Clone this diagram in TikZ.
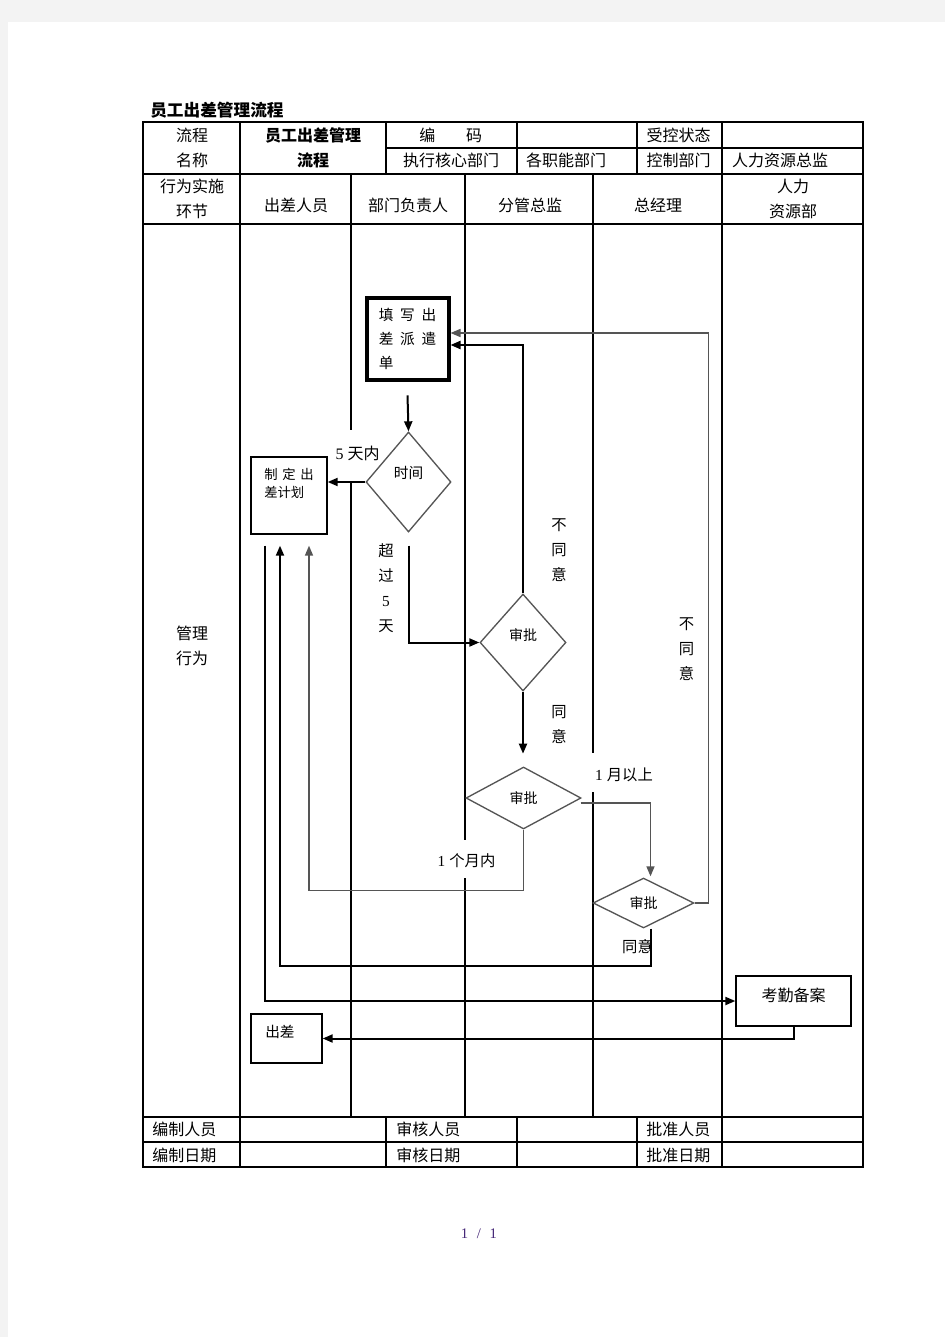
\documentclass[tikz,border=0pt]{standalone}
\usepackage{fontspec}
\setmainfont{Noto Sans CJK SC}
\newfontfamily\digitfont{Liberation Serif}
\definecolor{pagegray}{RGB}{243,243,243}
\definecolor{rulegray}{RGB}{85,85,85}
\definecolor{numink}{RGB}{70,40,120}
\usetikzlibrary{shapes.geometric,arrows.meta,positioning,calc}

\tikzset{
  cell/.style={inner sep=0pt, font=\fontsize{12}{14}\selectfont},
  lane/.style={line width=0.85pt},
  stepbox/.style={draw, line width=1pt, inner sep=0pt},
  choice/.style={draw=rulegray, diamond, line width=1pt, inner sep=0pt,
                 font=\fontsize{10.5}{12}\selectfont},
  boxtext/.style={inner sep=0pt, font=\fontsize{10.5}{12}\selectfont},
  tag/.style={inner sep=0pt, font=\fontsize{11.5}{14}\selectfont},
  vtag/.style={tag, align=center, font=\fontsize{11.5}{18.75}\selectfont},
  link/.style={line width=1.5pt},
  flow/.style={link, -{Triangle[length=7.5pt,width=6pt]}},
  softflow/.style={flow, line width=1.1pt, draw=rulegray},
}

\begin{document}
\begin{tikzpicture}[x=0.75pt,y=-0.75pt]
  \useasboundingbox (0,0) rectangle (945,1337);
  \fill[pagegray] (0,0) rectangle (945,1337);
  \fill[white] (8,22) rectangle (945,1337);

  % table frame
  \node[cell, font=\fontsize{12.5}{14}\selectfont\bfseries, anchor=west] (title)
    at (150,110) {员工出差管理流程};
  \draw[lane] (143,122) rectangle (863,1167);
  \draw[lane] (386,148) -- (863,148);
  \draw[lane] (143,174) -- (863,174);
  \draw[lane] (143,224) -- (863,224);
  \draw[lane] (143,1117) -- (863,1117);
  \draw[lane] (143,1142) -- (863,1142);
  \draw[lane] (240,122) -- (240,1167);
  \draw[lane] (722,122) -- (722,1167);
  \draw[lane] (386,122) -- (386,174) (517,122) -- (517,174) (637,122) -- (637,174);
  \draw[lane] (386,1117) -- (386,1167) (517,1117) -- (517,1167) (637,1117) -- (637,1167);
  \draw[lane] (351,174) -- (351,430) (351,482) -- (351,1117);
  \draw[lane] (465,174) -- (465,840) (465,878) -- (465,1117);
  \draw[lane] (593,174) -- (593,753) (593,792) -- (593,1117);

  % header
  \node[cell] (namea) at (192,135.5) {流程};
  \node[cell] (nameb) at (192,160.5) {名称};
  \node[cell, font=\fontsize{12}{14}\selectfont\bfseries] (flowa) at (313,135.5) {员工出差管理};
  \node[cell, font=\fontsize{12}{14}\selectfont\bfseries] (flowb) at (313,160.5) {流程};
  \node[cell] (code) at (450.75,135.5) {编\hspace{23pt}码};
  \node[cell] (state) at (678.5,135.5) {受控状态};
  \node[cell] (core) at (451,160.5) {执行核心部门};
  \node[cell] (func) at (566,160.5) {各职能部门};
  \node[cell] (ctrl) at (678.5,160.5) {控制部门};
  \node[cell] (hrdir) at (780,160.5) {人力资源总监};
  \node[cell] (stepa) at (192,186) {行为实施};
  \node[cell] (stepb) at (192,211) {环节};
  \node[cell] (staff) at (296,205) {出差人员};
  \node[cell] (head) at (408,205) {部门负责人};
  \node[cell] (dir) at (530,205) {分管总监};
  \node[cell] (gm) at (658,205) {总经理};
  \node[cell] (hra) at (793,186) {人力};
  \node[cell] (hrb) at (793,211) {资源部};
  \node[cell] (acta) at (192,633) {管理};
  \node[cell] (actb) at (192,658) {行为};

  % footer
  \node[cell, anchor=west] (makera) at (152,1129.5) {编制人员};
  \node[cell, anchor=west] (checka) at (396,1129.5) {审核人员};
  \node[cell, anchor=west] (granta) at (646,1129.5) {批准人员};
  \node[cell, anchor=west] (makerb) at (152,1155) {编制日期};
  \node[cell, anchor=west] (checkb) at (396,1155) {审核日期};
  \node[cell, anchor=west] (grantb) at (646,1155) {批准日期};

  % flow
  \node[stepbox, line width=3pt, minimum width=61.5pt, minimum height=62pt, align=left,
        font=\fontsize{11}{18}\selectfont] (fill) at (407.5,339)
    {填\hspace{5pt}写\hspace{5pt}出\\差\hspace{5pt}派\hspace{5pt}遣\\单};
  \node[choice, minimum width=63.75pt, minimum height=75pt,
        label={[boxtext, font=\fontsize{11}{12}\selectfont, yshift=6.75pt]center:时间}] (time)
    at (408.5,482) {};
  \node[stepbox, minimum width=57pt, minimum height=57.75pt] (plan) at (289,495.5) {};
  \node[boxtext, font=\fontsize{10}{13.5}\selectfont, align=left, anchor=north west] (plantext)
    at (264,467.5) {制\hspace{3.5pt}定\hspace{3.5pt}出\\差计划};
  \node[choice, minimum width=64.5pt, minimum height=72.75pt,
        label={[boxtext, yshift=5.25pt]center:审批}] (rev1) at (523,642.5) {};
  \node[choice, minimum width=86.25pt, minimum height=46.5pt] (rev2) at (523.5,798) {审批};
  \node[choice, minimum width=75.75pt, minimum height=37.5pt] (rev3) at (643.5,903) {审批};
  \node[stepbox, minimum width=86.25pt, minimum height=37.5pt,
        label={[boxtext, font=\fontsize{12}{14}\selectfont, yshift=4.5pt]center:考勤备案}] (duty)
    at (793.5,1001) {};
  \node[stepbox, minimum width=53.25pt, minimum height=36.75pt] (trip) at (286.5,1038.5) {};
  \node[boxtext, font=\fontsize{11}{13}\selectfont, anchor=west] (triptext) at (265,1032) {出差};

  % labels
  \node[tag, font=\fontsize{12}{14}\selectfont] (within5) at (357.5,453)
    {{\digitfont 5}\hspace{3pt}天内};
  \node[vtag] (over5) at (386,588.5) {超\\过\\{\digitfont 5}\\天};
  \node[vtag] (deny1) at (559,550) {不\\同\\意};
  \node[vtag] (agree1) at (559,724.5) {同\\意};
  \node[vtag] (deny2) at (686.5,649) {不\\同\\意};
  \node[tag] (overmonth) at (624,775) {{\digitfont 1}\hspace{3pt}月以上};
  \node[tag] (inmonth) at (466.5,861) {{\digitfont 1}\hspace{3pt}个月内};
  \node[tag] (agree2) at (637.5,947) {同意};

  % connectors
  \draw[flow] ($(fill.south)+(0,13)$) -- (time.north);
  \draw[flow] (time.west) -- (time.west -| plan.east);
  \draw[flow] ($(time.south)+(0,13)$) |- (rev1.west);
  \draw[flow] (rev1.north) |- ($(fill.east)+(0,6)$);
  \draw[flow] (rev1.south) -- ($(rev1.south)+(0,62)$);
  \draw[softflow] ($(rev2.east)+(-1,5)$) -| ($(rev3.north)+(7,-1)$);
  \draw[softflow] (rev3.east) -- ++(14,0) |- ($(fill.east)+(0,-6)$);
  \draw[softflow] (rev2.south) -- ++(0,61) -| ($(plan.south)+(20,11)$);
  \draw[flow] ($(rev3.south)+(7,0)$) -- ++(0,37) -| ($(plan.south)+(-9,11)$);
  \draw[flow] ($(plan.south)+(-24,11)$) |- (duty.west);
  \draw[flow] (duty.south) |- (trip.east);

  \node[font=\fontsize{11}{13}\selectfont\digitfont, text=numink, inner sep=0pt] (pageno)
    at (479,1234) {1\hspace{6.5pt}/\hspace{6.5pt}1};
\end{tikzpicture}
\end{document}
